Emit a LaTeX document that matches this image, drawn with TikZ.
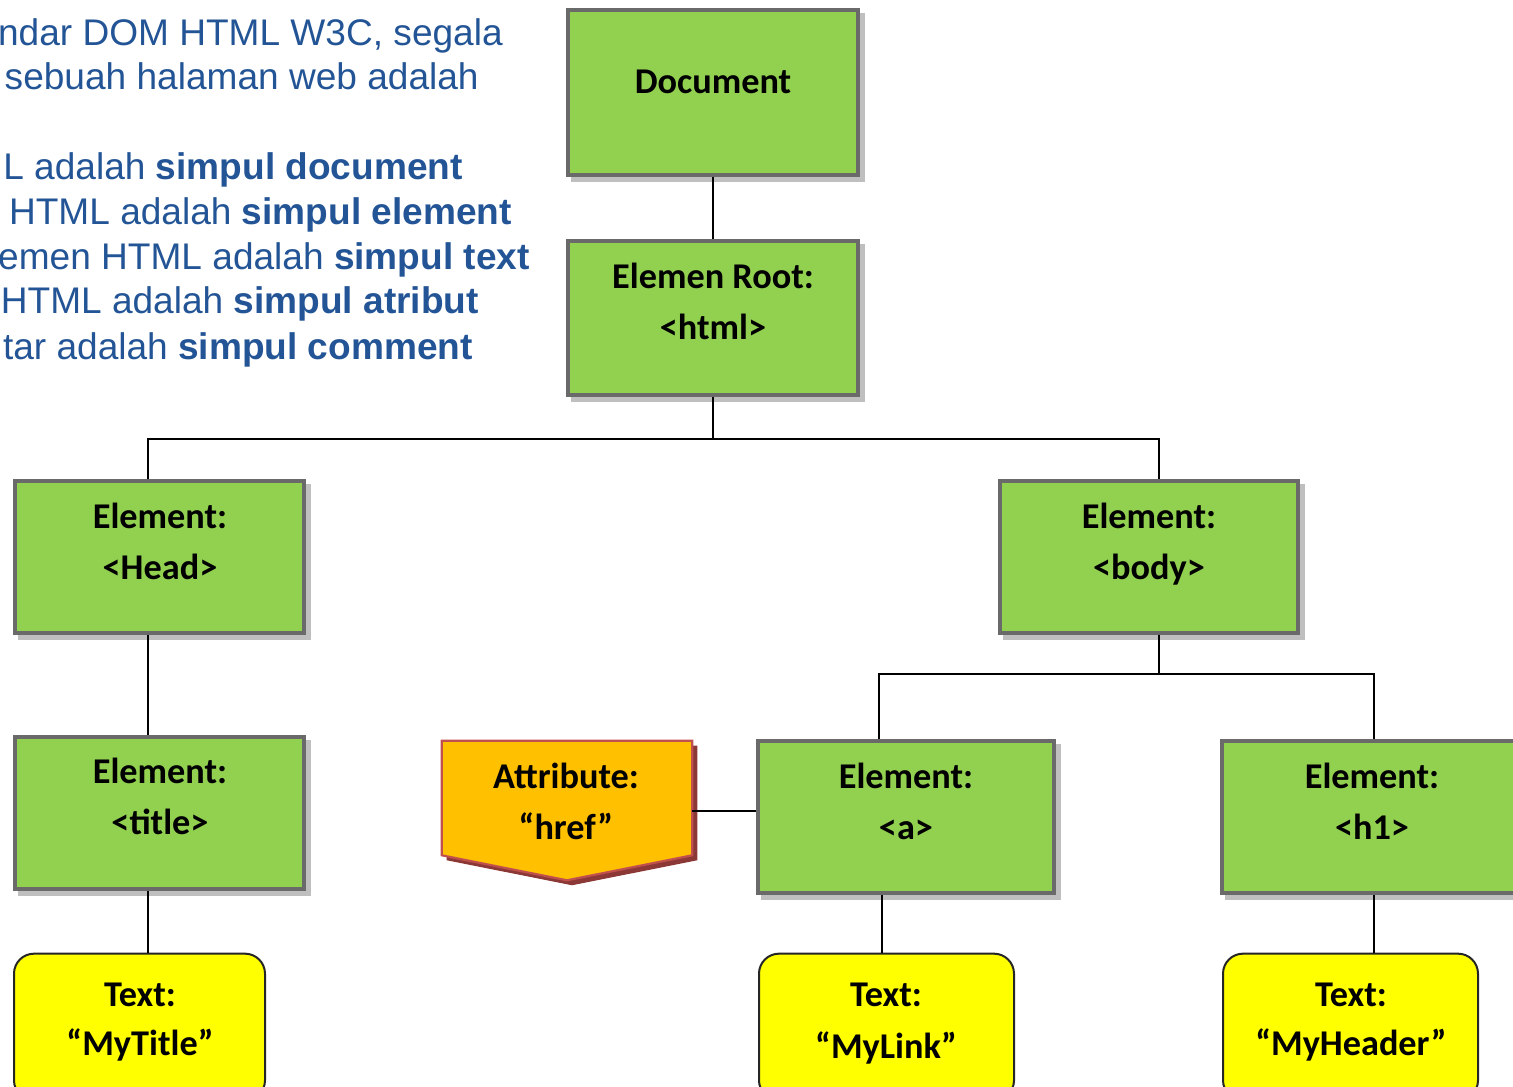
\documentclass[tikz,border=0pt]{standalone}
\usepackage{fontspec}
\setmainfont{Carlito}
\newfontfamily\arialf{Liberation Sans}
\definecolor{gfill}{HTML}{92D050}
\definecolor{gborder}{HTML}{6A6A6A}
\definecolor{gshadow}{HTML}{BFBFBF}
\definecolor{ofill}{HTML}{FFC000}
\definecolor{oborder}{HTML}{C0504D}
\definecolor{oshadow}{HTML}{8C3836}
\definecolor{yfill}{HTML}{FFFF00}
\definecolor{yborder}{HTML}{262626}
\definecolor{introblue}{RGB}{35,85,150}
\begin{document}
\begin{tikzpicture}[x=0.75pt,y=-0.75pt,
  greenbox/.style={draw=gborder, line width=2.6pt, fill=gfill, inner sep=0pt,
    preaction={fill=gshadow, draw=gshadow, transform canvas={shift={(5,5)}}}},
  yellowbox/.style={draw=yborder, line width=1.5pt, fill=yfill, inner sep=0pt,
    rounded corners=15pt, minimum height=110pt},
  lbl/.style={font=\bfseries\fontsize{27.2}{30}\selectfont, inner sep=0pt, anchor=base},
  intro/.style={font=\arialf\fontsize{27.8}{32}\selectfont, text=introblue, inner sep=0pt, anchor=base east},
  conn/.style={draw=black, line width=1.5pt},
]
\useasboundingbox (0,0) rectangle (1513,1087);

% intro text
\node[intro] (i1) at (503,46) {ndar DOM HTML W3C, segala};
\node[intro] (i2) at (479,90) {sebuah halaman web adalah};
\node[intro] (i3) at (463,180) {L adalah \textbf{simpul document}};
\node[intro] (i4) at (512,225) {HTML adalah \textbf{simpul element}};
\node[intro] (i5) at (530,270) {emen HTML adalah \textbf{simpul text}};
\node[intro] (i6) at (479,314) {HTML adalah \textbf{simpul atribut}};
\node[intro] (i7) at (473,359) {tar adalah \textbf{simpul comment}};

% junction coordinates
\coordinate (bl) at (148,439);
\coordinate (br) at (1159,439);
\coordinate (cl) at (879,674);
\coordinate (cr) at (1374,674);
\coordinate (ax) at (882,0);

% boxes
\node[greenbox, minimum width=217.5pt, minimum height=123.75pt] (doc) at (713,92.5) {};
\node[greenbox, minimum width=217.5pt, minimum height=115.5pt] (root) at (713,318) {};
\node[greenbox, minimum width=216.75pt, minimum height=114pt] (head) at (159.5,557) {};
\node[greenbox, minimum width=223.5pt, minimum height=114pt] (body) at (1149,557) {};
\node[greenbox, minimum width=216.75pt, minimum height=114pt] (title) at (159.5,813) {};
\node[greenbox, minimum width=222pt, minimum height=114pt] (a) at (906,817) {};
\node[greenbox, minimum width=225pt, minimum height=114pt] (h1) at (1372,817) {};

\node[yellowbox, minimum width=188.25pt] (ttitle) at (139.5,1027) {};
\node[yellowbox, minimum width=191.25pt] (tlink) at (886.5,1027) {};
\node[yellowbox, minimum width=191.25pt] (theader) at (1350.5,1027) {};

% attribute shape
\node[inner sep=0pt, minimum width=187.5pt, minimum height=104.25pt] (attr) at (567,810.5) {};
\fill[oshadow, transform canvas={shift={(5,5)}}] (attr.north west) -- (attr.north east)
  -- ([yshift=18.75pt]attr.south east) -- (attr.south) -- ([yshift=18.75pt]attr.south west) -- cycle;
\draw[draw=oborder, line width=1.6pt, fill=ofill, line join=miter] (attr.north west) -- (attr.north east)
  -- ([yshift=18.75pt]attr.south east) -- (attr.south) -- ([yshift=18.75pt]attr.south west) -- cycle;

% connectors
\draw[conn] (doc.south) -- (root.north);
\draw[conn] (root.south) -- (root.south |- bl);
\draw[conn] (head.north -| bl) -- (bl) -- (br) -- (body.north -| br);
\draw[conn] (head.south -| bl) -- (title.north -| bl);
\draw[conn] (title.south -| bl) -- (ttitle.north -| bl);
\draw[conn] (body.south -| br) -- (br |- cl);
\draw[conn] (a.north -| cl) -- (cl) -- (cr) -- (h1.north -| cr);
\draw[conn] (attr.east) -- (attr.east -| a.west);
\draw[conn] (a.south -| ax) -- (tlink.north -| ax);
\draw[conn] (h1.south -| cr) -- (theader.north -| cr);

% labels
\node[lbl] (doc-t1) at (713,94) {Document};
\node[lbl] (root-t1) at (713,289) {Elemen Root:};
\node[lbl] (root-t2) at (713,340) {<html>};
\node[lbl] (head-t1) at (160,528) {Element:};
\node[lbl] (head-t2) at (160,579) {<Head>};
\node[lbl] (body-t1) at (1149,528) {Element:};
\node[lbl] (body-t2) at (1149,579) {<body>};
\node[lbl] (title-t1) at (160,783) {Element:};
\node[lbl] (title-t2) at (160,834) {<title>};
\node[lbl] (attr-t1) at (566,788) {Attribute:};
\node[lbl] (attr-t2) at (566,839) {“href”};
\node[lbl] (a-t1) at (906,788) {Element:};
\node[lbl] (a-t2) at (906,839) {<a>};
\node[lbl] (h1-t1) at (1372,788) {Element:};
\node[lbl] (h1-t2) at (1372,839) {<h1>};
\node[lbl] (tt-t1) at (140,1006) {Text:};
\node[lbl] (tt-t2) at (140,1055) {“MyTitle”};
\node[lbl] (tl-t1) at (886,1006) {Text:};
\node[lbl] (tl-t2) at (886,1058) {“MyLink”};
\node[lbl] (th-t1) at (1351,1006) {Text:};
\node[lbl] (th-t2) at (1351,1055) {“MyHeader”};
\end{tikzpicture}
\end{document}
